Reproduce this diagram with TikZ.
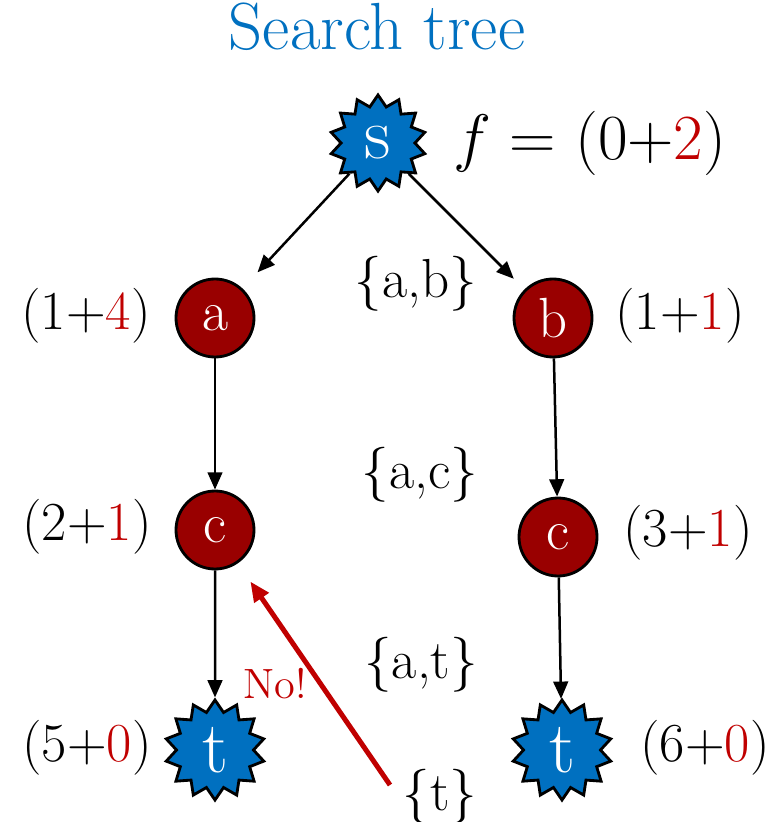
\RequirePackage{fix-cm}
\documentclass[tikz,border=0pt]{standalone}
\usepackage{fontspec}
\usetikzlibrary{shapes.geometric,arrows.meta}
\definecolor{sblue}{HTML}{0070C0}
\definecolor{dred}{HTML}{990000}
\definecolor{tred}{HTML}{C00000}
\begin{document}
\begin{tikzpicture}[x=0.3pt,y=-0.3pt,
  starnode/.style={star,star points=14,star point ratio=1.3,minimum size=28.8pt,inner sep=0pt,
    fill=sblue,draw=black,line width=0.85pt,text=white,font=\fontsize{22}{26}\selectfont},
  circnode/.style={circle,minimum size=23.4pt,inner sep=0pt,fill=dred,draw=black,
    line width=0.85pt,text=white,font=\fontsize{17}{20}\selectfont},
  lbl/.style={font=\fontsize{16.5}{20}\selectfont,inner sep=0pt},
  edge/.style={line width=0.75pt,-{Triangle[length=5.2pt,width=4.4pt]}},
  noedge/.style={line width=1.5pt,draw=tred,-{Triangle[length=6pt,width=5pt]}}
]
\useasboundingbox (0,0) rectangle (779,822);

\node[font=\fontsize{20}{24}\selectfont,text=sblue,anchor=base,inner sep=0pt] (title) at (377,50) {Search tree};

\node[starnode] (s) at (378,143) {s};
\node[circnode] (a) at (215,318) {a};
\node[circnode] (b) at (553,318) {b};
\node[circnode] (c1) at (215,530) {c};
\node[circnode] (c2) at (558,537) {c};
\node[starnode,minimum size=30pt] (t1) at (215,750) {t};
\node[starnode,minimum size=30pt] (t2) at (562,750) {t};

\node[lbl,font=\fontsize{19.3}{23}\selectfont] (fs) at (590,143) {$f =$ (0+\textcolor{tred}{2})};
\node[lbl] (la) at (86,316) {(1+\textcolor{tred}{4})};
\node[lbl] (lb) at (680,316) {(1+\textcolor{tred}{1})};
\node[lbl] (lc1) at (87,527) {(2+\textcolor{tred}{1})};
\node[lbl] (lc2) at (688,533) {(3+\textcolor{tred}{1})};
\node[lbl] (lt1) at (87,748) {(5+\textcolor{tred}{0})};
\node[lbl] (lt2) at (705,748) {(6+\textcolor{tred}{0})};

\node[lbl] (sab) at (416,284) {\{a,b\}};
\node[lbl] (sac) at (420,475) {\{a,c\}};
\node[lbl] (sat) at (421,665) {\{a,t\}};
\node[lbl] (st) at (440,797) {\{t\}};

\node[font=\fontsize{12.7}{15}\selectfont,text=tred,inner sep=0pt] (no) at (275,684) {No!};

\coordinate (nostart) at (390,785);

\draw[edge,shorten >=6.6pt] (s) -- (a);
\draw[edge,shorten >=4.5pt] (s) -- (b);
\draw[edge] (a) -- (c1);
\draw[edge] (b) -- (c2);
\draw[edge] (c1) -- (t1);
\draw[edge] (c2) -- (t2);
\draw[noedge,shorten >=6.6pt] (nostart) -- (c1);
\end{tikzpicture}
\end{document}
